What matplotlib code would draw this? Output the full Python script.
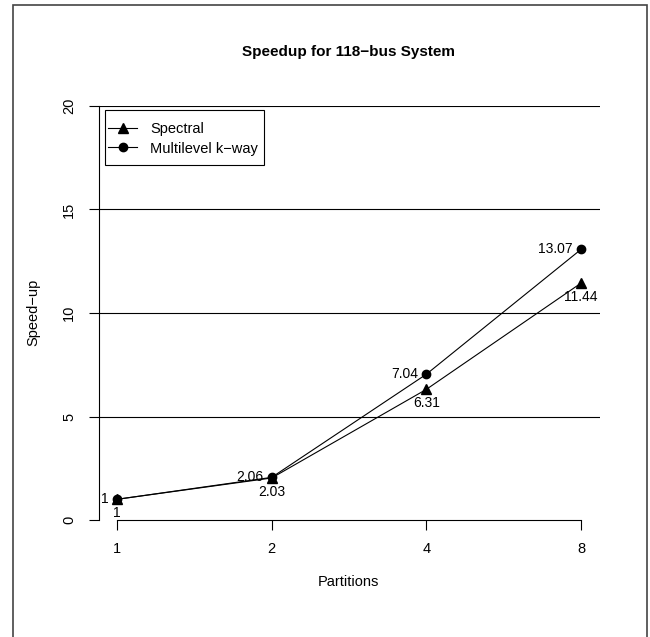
import matplotlib
matplotlib.use('Agg')
import matplotlib.pyplot as plt
from matplotlib.patches import Rectangle

plt.rcParams['font.family'] = ['Liberation Sans', 'DejaVu Sans']

partitions = ['1', '2', '4', '8']
spectral = [1, 2.03, 6.31, 11.44]
multilevel = [1, 2.06, 7.04, 13.07]
spectral_labels = ['1', '2.03', '6.31', '11.44']
multilevel_labels = ['1', '2.06', '7.04', '13.07']
yticks = [0, 5, 10, 15, 20]
gridlines = [5, 10, 15, 20]

W, H = 650, 637
fig = plt.figure(figsize=(W / 100, H / 100), dpi=100)

# plot region in pixels (R style)
left, right, top, bottom = 98.5, 599.5, 106, 520
ax = fig.add_axes([left / W, 1 - bottom / H, (right - left) / W, (bottom - top) / H])

x = [1, 2, 3, 4]
ax.set_xlim(1 - 0.12, 4 + 0.12)
ax.set_ylim(0, 20)

for g in gridlines:
    ax.axhline(g, color='black', lw=0.8, zorder=1)

ax.plot(x, spectral, '-', color='black', marker='^', markersize=6.5, lw=0.8, label='Spectral', zorder=3)
ax.plot(x, multilevel, '-', color='black', marker='o', markersize=6, lw=0.8, label='Multilevel k\u2212way', zorder=3)

for xi, yi, lab in zip(x, multilevel, multilevel_labels):
    ax.annotate(lab, (xi, yi), xytext=(-6, 0), textcoords='offset points',
                ha='right', va='center', fontsize=10)
for xi, yi, lab in zip(x, spectral, spectral_labels):
    ax.annotate(lab, (xi, yi), xytext=(0, -10), textcoords='offset points',
                ha='center', va='center', fontsize=10)

# R style axes
for s in ['top', 'right']:
    ax.spines[s].set_visible(False)
ax.spines['left'].set_bounds(0, 20)
ax.spines['bottom'].set_bounds(1, 4)
ax.spines['left'].set_linewidth(0.8)
ax.spines['bottom'].set_linewidth(0.8)
ax.set_xticks(x)
ax.set_xticklabels(partitions)
ax.set_yticks(yticks)
ax.set_yticklabels([str(t) for t in yticks], rotation=90, va='center')
ax.tick_params(axis='both', direction='out', length=7, width=0.8, labelsize=10.5, pad=9)

# legend without frame, box drawn separately like R's legend()
leg = ax.legend(loc='upper left', bbox_to_anchor=(108 / W, 1 - 122 / H),
                bbox_transform=fig.transFigure, fontsize=10.5, frameon=False,
                handlelength=2.0, borderpad=0, borderaxespad=0,
                labelspacing=0.38, handletextpad=0.9)
fig.patches.append(Rectangle((105 / W, 1 - 165 / H), 159 / W, 55 / H,
                             transform=fig.transFigure, fill=False,
                             edgecolor='black', lw=0.8))

fig.text(348 / W, 1 - 52 / H, 'Speedup for 118\u2212bus System', ha='center', va='center',
         fontsize=11, fontweight='bold')
fig.text(348 / W, 1 - 582 / H, 'Partitions', ha='center', va='center', fontsize=10.5)
fig.text(33 / W, 1 - 312 / H, 'Speed\u2212up', ha='center', va='center', fontsize=10.5, rotation=90)

# outer frame around the figure
fig.patches.append(Rectangle((13 / W, -0.05), (647 - 13) / W, 1.05 - 5 / H,
                             transform=fig.transFigure, fill=False, edgecolor='#444444',
                             lw=1.2, clip_on=False))

fig.savefig('out.png', dpi=100)
